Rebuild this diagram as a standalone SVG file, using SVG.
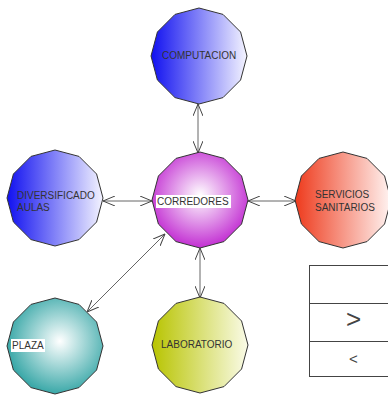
<svg xmlns="http://www.w3.org/2000/svg" width="388" height="396" viewBox="0 0 388 396">
  <defs>
    <linearGradient id="gBlue" x1="0" y1="0" x2="1" y2="0">
      <stop offset="0" stop-color="#1010f0"/>
      <stop offset="1" stop-color="#f4f4ff"/>
    </linearGradient>
    <linearGradient id="gRed" x1="0" y1="0" x2="1" y2="0">
      <stop offset="0" stop-color="#ee3a1c"/>
      <stop offset="1" stop-color="#fff4f2"/>
    </linearGradient>
    <linearGradient id="gLime" x1="0" y1="0" x2="1" y2="0">
      <stop offset="0" stop-color="#b8c400"/>
      <stop offset="1" stop-color="#fafbe8"/>
    </linearGradient>
    <radialGradient id="gMagenta" cx="0.5" cy="0.45" r="0.55">
      <stop offset="0" stop-color="#ffffff"/>
      <stop offset="1" stop-color="#c22ed2"/>
    </radialGradient>
    <radialGradient id="gTeal" cx="0.55" cy="0.45" r="0.55">
      <stop offset="0" stop-color="#ffffff"/>
      <stop offset="1" stop-color="#3aa8a8"/>
    </radialGradient>
    <!-- 12-sided node outline, radius 48 -->
    <polygon id="dodeca" points="0,-48 24,-41.6 41.6,-24 48,0 41.6,24 24,41.6 0,48 -24,41.6 -41.6,24 -48,0 -41.6,-24 -24,-41.6"/>
    <marker id="arrow" viewBox="0 0 12 10" refX="12" refY="5" markerWidth="12" markerHeight="10" markerUnits="userSpaceOnUse" orient="auto-start-reverse">
      <path d="M0,0 L12,5 L0,10" fill="none" stroke="#444" stroke-width="1"/>
    </marker>
  </defs>
  <style>
    .shape { stroke: #333; stroke-width: 1; }
    .label { font-family: "Liberation Sans", Arial, sans-serif; font-size: 10px; fill: #333; }
    .conn { stroke: #666; stroke-width: 1; fill: none; marker-start: url(#arrow); marker-end: url(#arrow); }
    .tbl { fill: none; stroke: #444; stroke-width: 1; }
    .sym { font-family: "Liberation Sans", Arial, sans-serif; fill: #444; }
  </style>

  <rect width="388" height="396" fill="#ffffff"/>

  <g id="connectors">
    <line class="conn" x1="198" y1="104" x2="198" y2="153"/>
    <line class="conn" x1="103" y1="201" x2="152" y2="201"/>
    <line class="conn" x1="248" y1="201" x2="296" y2="201"/>
    <line class="conn" x1="200" y1="248" x2="200" y2="298"/>
    <line class="conn" x1="165" y1="234" x2="87" y2="312"/>
  </g>

  <g id="computacion">
    <use href="#dodeca" x="199" y="56" fill="url(#gBlue)" class="shape"/>
    <text class="label" x="162" y="59">COMPUTACION</text>
  </g>

  <g id="corredores">
    <use href="#dodeca" x="200" y="200" fill="url(#gMagenta)" class="shape"/>
    <rect x="156" y="195" width="75" height="13" fill="#ffffff"/>
    <text class="label" x="157" y="205">CORREDORES</text>
  </g>

  <g id="diversificado">
    <use href="#dodeca" x="55" y="198" fill="url(#gBlue)" class="shape"/>
    <text class="label" x="17" y="199">DIVERSIFICADO</text>
    <text class="label" x="17" y="211">AULAS</text>
  </g>

  <g id="servicios">
    <use href="#dodeca" x="343" y="200" fill="url(#gRed)" class="shape"/>
    <text class="label" x="315" y="198">SERVICIOS</text>
    <text class="label" x="315" y="211">SANITARIOS</text>
  </g>

  <g id="plaza">
    <use href="#dodeca" x="55" y="346" fill="url(#gTeal)" class="shape"/>
    <rect x="11" y="339" width="34" height="13" fill="#ffffff"/>
    <text class="label" x="12" y="349">PLAZA</text>
  </g>

  <g id="laboratorio">
    <use href="#dodeca" x="200" y="345" fill="url(#gLime)" class="shape"/>
    <text class="label" x="161" y="348">LABORATORIO</text>
  </g>

  <g id="table">
    <rect class="tbl" x="309.5" y="265.5" width="85" height="111"/>
    <line class="tbl" x1="309.5" y1="303.5" x2="388" y2="303.5" stroke="#888"/>
    <line class="tbl" x1="309.5" y1="341.5" x2="388" y2="341.5" stroke="#888"/>
    <text class="sym" x="346" y="328" font-size="26">&gt;</text>
    <text class="sym" x="349" y="364" font-size="15">&lt;</text>
  </g>
</svg>
